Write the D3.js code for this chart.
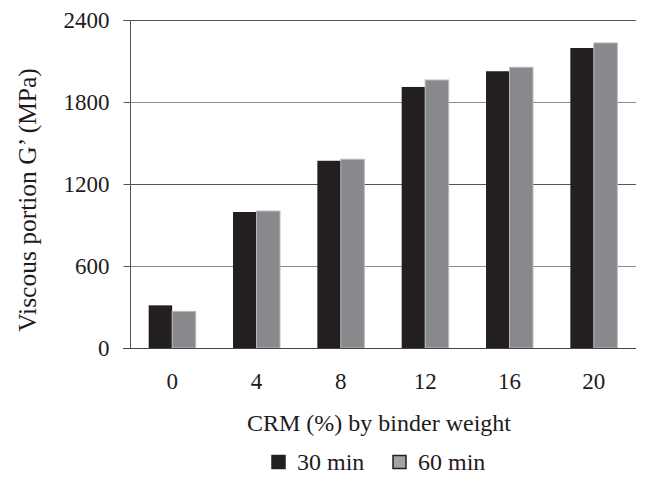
<!DOCTYPE html>
<html><head><meta charset="utf-8">
<script src="https://cdn.jsdelivr.net/npm/d3@7"></script>
<style>body{margin:0;background:#fff}svg{display:block}text{font-family:"Liberation Serif","Times New Roman",Times,serif;fill:#1e1b1c}</style>
</head><body><svg id="c" width="651" height="482"></svg>
<script>
const categories = ["0","4","8","12","16","20"];
const seriesNames = ["30 min","60 min"];
const values30 = [312, 995, 1370, 1910, 2025, 2195];
const values60 = [268, 1002, 1381, 1961, 2054, 2232];
const yTicks = [0, 600, 1200, 1800, 2400];
const colors = ["#231f20", "#88898c"];

const svg = d3.select("#c");
const m = {l:130, r:636, t:20, b:348};
const x = d3.scaleBand().domain(categories).range([m.l, m.r]).paddingInner(0.443).paddingOuter(0.2215);
const xs = d3.scaleBand().domain(seriesNames).range([0, x.bandwidth()]);
const y = d3.scaleLinear().domain([0, 2400]).range([m.b, m.t]);

// gridlines
svg.append("g").selectAll("line").data(yTicks.filter(d=>d>0)).join("line")
  .attr("x1", m.l).attr("x2", m.r).attr("y1", d=>Math.round(y(d))+0.5).attr("y2", d=>Math.round(y(d))+0.5)
  .attr("stroke", (d,i)=> i%2===0 ? "#8c8c8c" : "#555").attr("stroke-width",1);

// y axis
const ya = svg.append("g").attr("transform", `translate(${m.l+0.5},0)`)
  .call(d3.axisLeft(y).tickValues(yTicks).tickSize(7).tickPadding(14).tickFormat(d3.format("d")));
ya.attr("font-family", null);
ya.select(".domain").attr("stroke","#555").attr("d", `M-7,${m.t}.5H0V${m.b}.5`);
ya.selectAll(".tick line").attr("stroke","#555");
ya.selectAll("text").attr("font-size",23).attr("fill","#1e1b1c").attr("dy","0.34em");

// bars
const data = categories.map((c,i)=>({c, v:[values30[i], values60[i]]}));
const g = svg.append("g").selectAll("g").data(data).join("g").attr("transform", d=>`translate(${x(d.c)},0)`);
g.selectAll("rect").data(d=>d.v.map((v,j)=>({s:seriesNames[j], v, j}))).join("rect")
  .attr("x", d=>xs(d.s)).attr("width", xs.bandwidth())
  .attr("y", d=>y(d.v)).attr("height", d=>y(0)-y(d.v))
  .attr("fill", d=>colors[d.j])
  .attr("stroke", d=> d.j===1 ? "#b8b8ba" : "none").attr("stroke-width", 1);

// x axis baseline
const xa = svg.append("g").attr("transform", `translate(0,${Math.round(m.b)+0.5})`)
  .call(d3.axisBottom(x).tickSize(0).tickPadding(24));
xa.attr("font-family", null);
xa.select(".domain").attr("stroke","#444").attr("d", `M${m.l-7},0H${m.r}`);
xa.selectAll("text").attr("font-size",23).attr("fill","#1e1b1c");

// axis titles
svg.append("text").attr("x", 379).attr("y", 431).attr("text-anchor","middle").attr("font-size",24)
  .text("CRM (%) by binder weight");
svg.append("text").attr("transform","translate(36,200) rotate(-90)").attr("text-anchor","middle").attr("font-size",25.5)
  .text("Viscous portion G’ (MPa)");

// legend
const lg = svg.append("g");
const lx = [272, 393];
seriesNames.forEach((s,i)=>{
  lg.append("rect").attr("x", lx[i]).attr("y", 455.5).attr("width", 13).attr("height", 13)
    .attr("fill", i===0 ? colors[0] : "#a2a3a6").attr("stroke", "#231f20").attr("stroke-width", 1.5);
  lg.append("text").attr("x", lx[i]+25).attr("y", 470).attr("font-size",24).text(s);
});
</script></body></html>
